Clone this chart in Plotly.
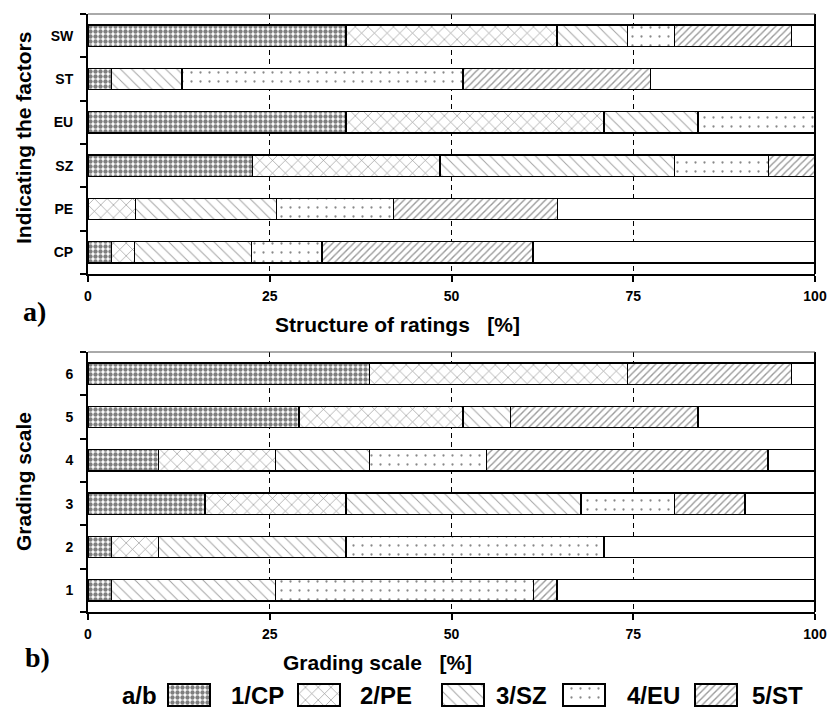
import plotly.graph_objects as go

# ---------------- data (percent of ratings) ----------------
factors = ["CP", "PE", "SZ", "EU", "ST", "SW"]          # panel a) categories (bottom -> top)
grades = ["1", "2", "3", "4", "5", "6"]                 # panel b) categories (bottom -> top)
series_names = ["1/CP", "2/PE", "3/SZ", "4/EU", "5/ST"]
x_ticks = [0, 25, 50, 75, 100]

# panel a) – one list per series, in the order of `factors`
a_cp = [3.2, 0.0, 22.6, 35.5, 3.2, 35.5]
a_pe = [3.2, 6.5, 25.8, 35.5, 0.0, 29.0]
a_sz = [16.1, 19.4, 32.3, 12.9, 9.7, 9.7]
a_eu = [9.7, 16.1, 12.9, 16.1, 38.7, 6.5]
a_st = [29.0, 22.6, 6.5, 0.0, 25.8, 16.1]
a_rest = [38.7, 35.5, 0.0, 0.0, 22.6, 3.2]

# panel b) – one list per series, in the order of `grades`
b_cp = [3.2, 3.2, 16.1, 9.7, 29.0, 38.7]
b_pe = [0.0, 6.5, 19.4, 16.1, 22.6, 35.5]
b_sz = [22.6, 25.8, 32.3, 12.9, 6.5, 0.0]
b_eu = [35.5, 35.5, 12.9, 16.1, 0.0, 0.0]
b_st = [3.2, 0.0, 9.7, 38.7, 25.8, 22.6]
b_rest = [35.5, 29.0, 9.7, 6.5, 16.1, 3.2]

# ---------------- styles ----------------
W, H = 830, 709
SANS = "Liberation Sans, Arial, sans-serif"
SERIF = "Liberation Serif, Times New Roman, serif"

patterns = [
    dict(shape=".", size=5, solidity=0.6, fgcolor="black", bgcolor="white", fillmode="overlay"),
    dict(shape="x", size=9, solidity=0.14, fgcolor="#222222", bgcolor="white", fillmode="overlay"),
    dict(shape="\\", size=8, solidity=0.12, fgcolor="#444444", bgcolor="white", fillmode="overlay"),
    dict(shape=".", size=9, solidity=0.05, fgcolor="#111111", bgcolor="white", fillmode="overlay"),
    dict(shape="/", size=5, solidity=0.28, fgcolor="#333333", bgcolor="white", fillmode="overlay"),
]
line = dict(color="black", width=1.5)

fig = go.Figure()

panels = [
    ("x", "y", factors, [a_cp, a_pe, a_sz, a_eu, a_st], a_rest),
    ("x2", "y2", grades, [b_cp, b_pe, b_sz, b_eu, b_st], b_rest),
]
for xa, ya, cats, series, rest in panels:
    for name, vals, pat in zip(series_names, series, patterns):
        fig.add_trace(go.Bar(
            y=cats, x=vals, orientation="h", name=name, xaxis=xa, yaxis=ya,
            marker=dict(color="white", pattern=pat, line=line),
            showlegend=False,
        ))
    fig.add_trace(go.Bar(
        y=cats, x=rest, orientation="h", name="rest", xaxis=xa, yaxis=ya,
        marker=dict(color="white", line=line), showlegend=False,
    ))

# ---------------- custom legend (large patterned swatches) ----------------
sw_left = [168, 298, 442, 563, 695]
sw_w, sw_bottom, sw_h = 42, 3, 22
for name, pat, left in zip(series_names, patterns, sw_left):
    fig.add_trace(go.Bar(
        x=[left + sw_w / 2], y=[sw_h], base=[sw_bottom], width=[sw_w],
        xaxis="x3", yaxis="y3", showlegend=False, hoverinfo="skip",
        marker=dict(color="white", pattern=pat, line=dict(color="black", width=1.5)),
    ))

legend_text_x = [257, 386, 521, 653, 777]
annotations = [
    dict(text="a/b", x=139 / W, y=1 - 695 / H),
]
for name, xx in zip(series_names, legend_text_x):
    annotations.append(dict(text=name, x=xx / W, y=1 - 695 / H))
for a in annotations:
    a.update(xref="paper", yref="paper", showarrow=False, xanchor="center", yanchor="middle",
             font=dict(family=SANS, size=24, color="black", weight="bold"))

annotations += [
    dict(text="Structure of ratings\u00a0\u00a0\u00a0[%]", x=397 / W, y=1 - 325 / H,
         font=dict(family=SANS, size=21, color="black", weight="bold")),
    dict(text="Grading scale\u00a0\u00a0\u00a0[%]", x=377 / W, y=1 - 662 / H,
         font=dict(family=SANS, size=21, color="black", weight="bold")),
    dict(text="Indicating the factors", x=23 / W, y=1 - 138 / H, textangle=-90,
         font=dict(family=SANS, size=21, color="black", weight="bold")),
    dict(text="Grading scale", x=23 / W, y=1 - 482 / H, textangle=-90,
         font=dict(family=SANS, size=21, color="black", weight="bold")),
    dict(text="a)", x=34 / W, y=1 - 311 / H,
         font=dict(family=SERIF, size=28, color="black", weight="bold")),
    dict(text="b)", x=37 / W, y=1 - 657 / H,
         font=dict(family=SERIF, size=28, color="black", weight="bold")),
]
for a in annotations[-6:]:
    a.update(xref="paper", yref="paper", showarrow=False, xanchor="center", yanchor="middle")

x_dom = [88 / W, 815 / W]
xaxis_common = dict(
    domain=x_dom, range=[0, 100], tickvals=x_ticks, showgrid=True, gridcolor="black",
    griddash="5px,4px", gridwidth=1, showline=True, linecolor="black", linewidth=2,
    ticks="outside", ticklen=6, tickwidth=2, tickcolor="black", zeroline=False,
    tickfont=dict(family=SANS, size=14, color="black", weight="bold"), ticklabelstandoff=2,
    automargin=False,
)
yaxis_common = dict(
    type="category", range=[-0.5, 5.5], tickson="boundaries", ticks="outside", ticklen=6,
    tickwidth=2, tickcolor="black", showline=True, linecolor="black", linewidth=2,
    showgrid=False, zeroline=False, ticklabelstandoff=10, automargin=False,
    tickfont=dict(family=SANS, size=14, color="black", weight="bold"),
)

shapes = []
for xr, yr in (("x", "y"), ("x2", "y2")):
    shapes.append(dict(type="line", xref=f"{xr} domain", yref=f"{yr} domain", x0=1, x1=1, y0=0, y1=1,
                       line=dict(color="black", width=2)))
    shapes.append(dict(type="line", xref=f"{xr} domain", yref=f"{yr} domain", x0=0, x1=1, y0=1, y1=1,
                       line=dict(color="#555555", width=1)))

fig.update_layout(
    width=W, height=H, autosize=False,
    margin=dict(l=0, r=0, t=0, b=0, autoexpand=False),
    paper_bgcolor="white", plot_bgcolor="rgba(0,0,0,0)",
    barmode="stack", bargap=0.51,
    showlegend=False,
    xaxis=dict(xaxis_common, anchor="y"),
    yaxis=dict(yaxis_common, domain=[1 - 274 / H, 1 - 14 / H], categoryorder="array",
               categoryarray=factors, anchor="x"),
    xaxis2=dict(xaxis_common, anchor="y2"),
    yaxis2=dict(yaxis_common, domain=[1 - 612 / H, 1 - 352 / H], categoryorder="array",
                categoryarray=grades, anchor="x2"),
    xaxis3=dict(domain=[0, 1], range=[0, W], visible=False, anchor="y3", fixedrange=True,
                automargin=False),
    yaxis3=dict(domain=[0, 1], range=[0, H], visible=False, anchor="x3", fixedrange=True,
                automargin=False),
    annotations=annotations,
    shapes=shapes,
)

fig.write_html("out.html")
